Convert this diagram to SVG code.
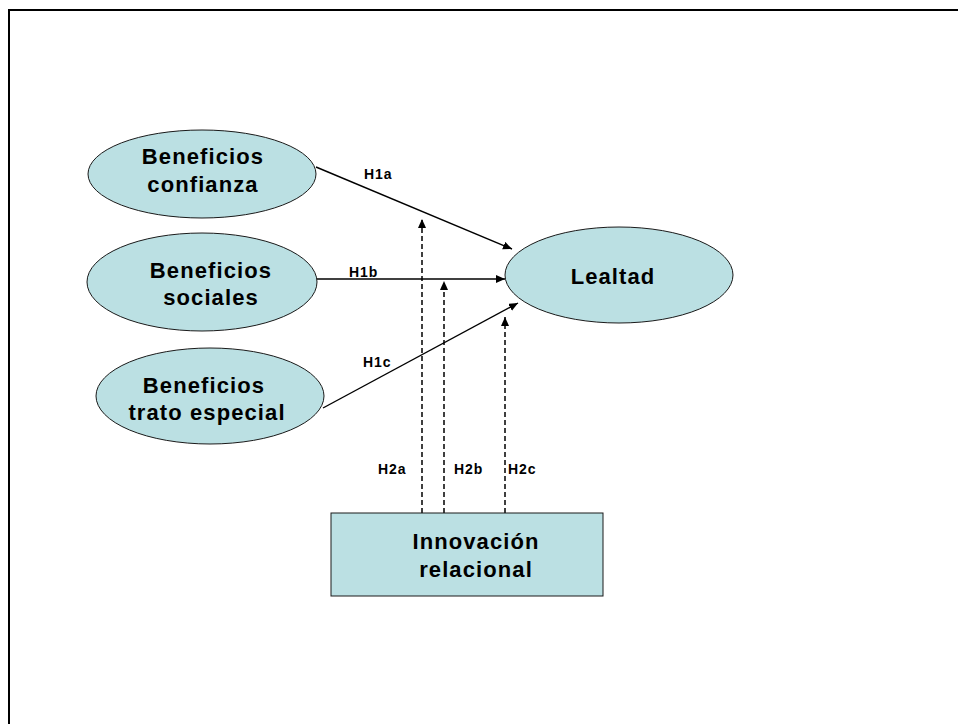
<svg xmlns="http://www.w3.org/2000/svg" width="958" height="724" viewBox="0 0 958 724">
  <style>
    .node { fill: #bbe0e3; stroke: #1a1a1a; stroke-width: 1; }
    .label { font-family: "Liberation Sans", Arial, sans-serif; font-weight: bold; font-size: 22px; letter-spacing: 1.1px; fill: #000; text-anchor: middle; }
    .hyp { font-family: "Liberation Sans", Arial, sans-serif; font-weight: bold; font-size: 14px; letter-spacing: 0.9px; fill: #000; }
    .solid { stroke: #000; stroke-width: 1.4; fill: none; marker-end: url(#head); }
    .dashed { stroke: #000; stroke-width: 1.5; fill: none; stroke-dasharray: 5 3; marker-end: url(#head); }
  </style>
  <defs>
    <marker id="head" markerUnits="userSpaceOnUse" markerWidth="10" markerHeight="9" refX="9" refY="4" orient="auto">
      <path d="M0,0 L9,4 L0,8 z" fill="#000"/>
    </marker>
  </defs>

  <rect x="0" y="0" width="958" height="724" fill="#fff"/>
  <!-- page frame -->
  <path d="M9,724 L9,10 L958,10" fill="none" stroke="#000" stroke-width="2"/>

  <g id="connectors">
    <line class="solid" x1="316" y1="167" x2="512" y2="249"/>
    <line class="solid" x1="317" y1="279" x2="505" y2="279"/>
    <line class="solid" x1="323" y1="408" x2="518" y2="303"/>
    <line class="dashed" x1="422" y1="513" x2="422" y2="219"/>
    <line class="dashed" x1="444" y1="513" x2="444" y2="281"/>
    <line class="dashed" x1="505" y1="513" x2="505" y2="317"/>
  </g>

  <g id="hypothesis-labels">
    <text class="hyp" x="364" y="179">H1a</text>
    <text class="hyp" x="349" y="277">H1b</text>
    <text class="hyp" x="363" y="367">H1c</text>
    <text class="hyp" x="378" y="474">H2a</text>
    <text class="hyp" x="454" y="474">H2b</text>
    <text class="hyp" x="508" y="474">H2c</text>
  </g>

  <g id="beneficios-confianza">
    <ellipse class="node" cx="202" cy="174" rx="114" ry="44"/>
    <text class="label" x="203" y="164">Beneficios</text>
    <text class="label" x="203" y="192">confianza</text>
  </g>

  <g id="beneficios-sociales">
    <ellipse class="node" cx="202" cy="282" rx="115" ry="49"/>
    <text class="label" x="211" y="278">Beneficios</text>
    <text class="label" x="211" y="305">sociales</text>
  </g>

  <g id="beneficios-trato-especial">
    <ellipse class="node" cx="210" cy="396" rx="114" ry="48"/>
    <text class="label" x="204" y="393">Beneficios</text>
    <text class="label" x="207" y="420">trato especial</text>
  </g>

  <g id="lealtad">
    <ellipse class="node" cx="619" cy="275" rx="114" ry="48"/>
    <text class="label" x="613" y="284">Lealtad</text>
  </g>

  <g id="innovacion-relacional">
    <rect class="node" x="331" y="513" width="272" height="83"/>
    <text class="label" x="476" y="549">Innovación</text>
    <text class="label" x="476" y="577">relacional</text>
  </g>
</svg>
